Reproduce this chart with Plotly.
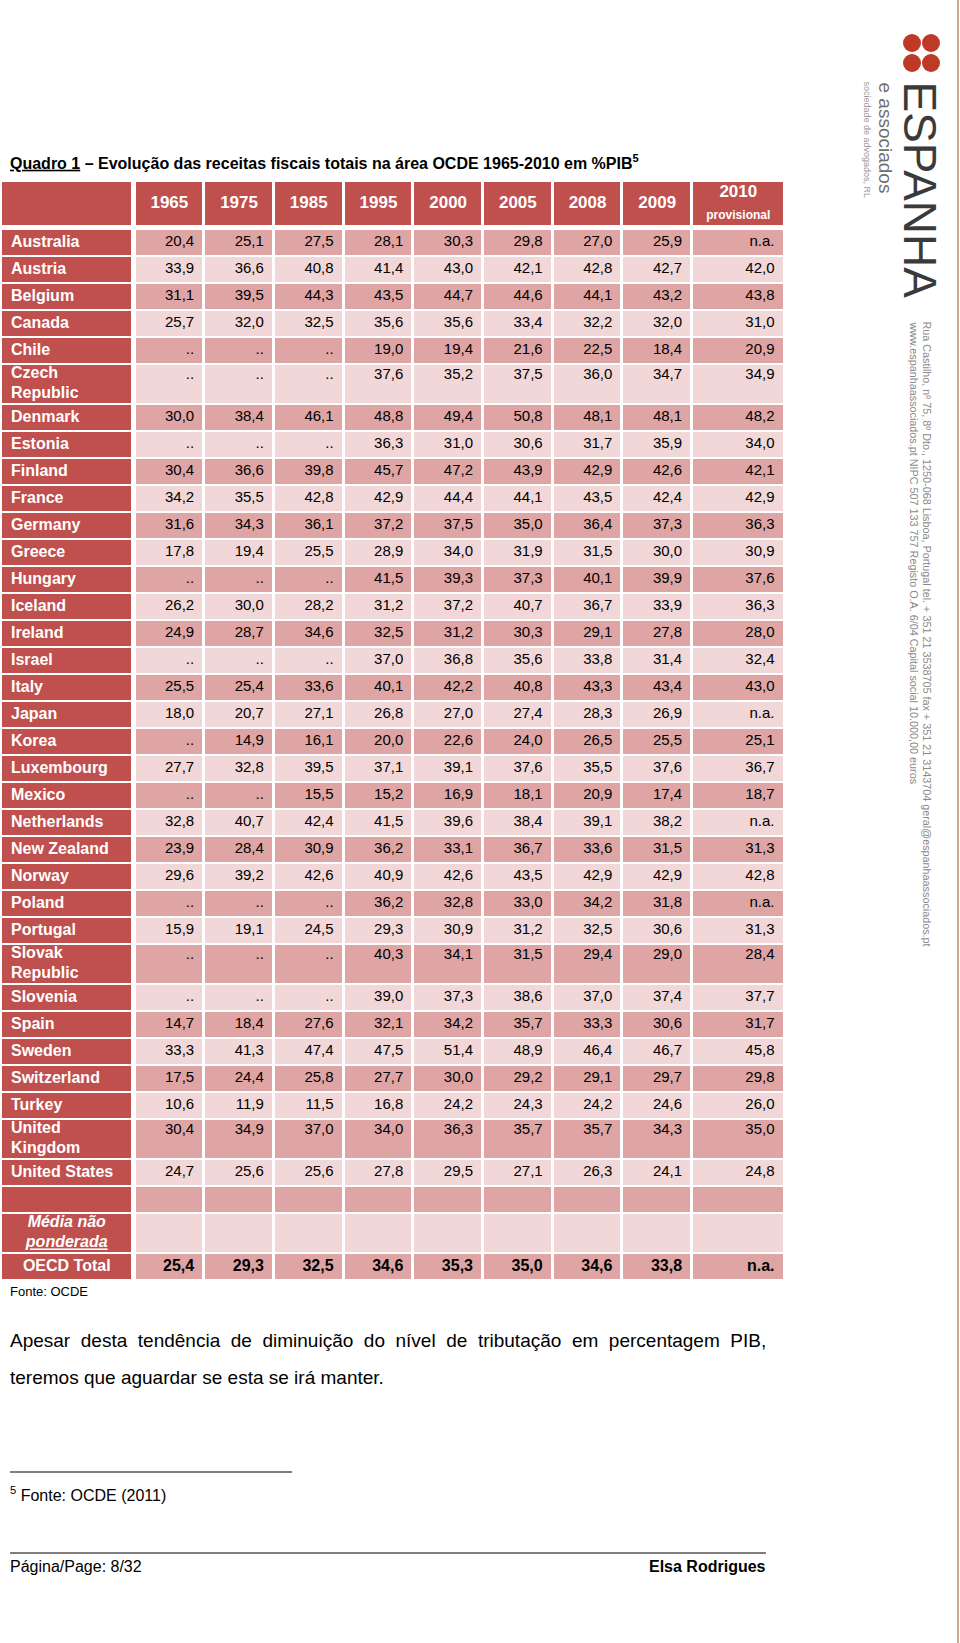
import plotly.graph_objects as go

W, H = 960, 1643

# ---------------- data ----------------
countries = ["Australia", "Austria", "Belgium", "Canada", "Chile", "Czech Republic", "Denmark",
             "Estonia", "Finland", "France", "Germany", "Greece", "Hungary", "Iceland", "Ireland",
             "Israel", "Italy", "Japan", "Korea", "Luxembourg", "Mexico", "Netherlands",
             "New Zealand", "Norway", "Poland", "Portugal", "Slovak Republic", "Slovenia", "Spain",
             "Sweden", "Switzerland", "Turkey", "United Kingdom", "United States"]
wrapped = {"Czech Republic": "Czech<br>Republic", "Slovak Republic": "Slovak<br>Republic",
           "United Kingdom": "United<br>Kingdom"}

years = ["1965", "1975", "1985", "1995", "2000", "2005", "2008", "2009", "2010"]

y1965 = [20.4, 33.9, 31.1, 25.7, None, None, 30.0, None, 30.4, 34.2, 31.6, 17.8, None, 26.2, 24.9, None, 25.5, 18.0, None, 27.7, None, 32.8, 23.9, 29.6, None, 15.9, None, None, 14.7, 33.3, 17.5, 10.6, 30.4, 24.7]
y1975 = [25.1, 36.6, 39.5, 32.0, None, None, 38.4, None, 36.6, 35.5, 34.3, 19.4, None, 30.0, 28.7, None, 25.4, 20.7, 14.9, 32.8, None, 40.7, 28.4, 39.2, None, 19.1, None, None, 18.4, 41.3, 24.4, 11.9, 34.9, 25.6]
y1985 = [27.5, 40.8, 44.3, 32.5, None, None, 46.1, None, 39.8, 42.8, 36.1, 25.5, None, 28.2, 34.6, None, 33.6, 27.1, 16.1, 39.5, 15.5, 42.4, 30.9, 42.6, None, 24.5, None, None, 27.6, 47.4, 25.8, 11.5, 37.0, 25.6]
y1995 = [28.1, 41.4, 43.5, 35.6, 19.0, 37.6, 48.8, 36.3, 45.7, 42.9, 37.2, 28.9, 41.5, 31.2, 32.5, 37.0, 40.1, 26.8, 20.0, 37.1, 15.2, 41.5, 36.2, 40.9, 36.2, 29.3, 40.3, 39.0, 32.1, 47.5, 27.7, 16.8, 34.0, 27.8]
y2000 = [30.3, 43.0, 44.7, 35.6, 19.4, 35.2, 49.4, 31.0, 47.2, 44.4, 37.5, 34.0, 39.3, 37.2, 31.2, 36.8, 42.2, 27.0, 22.6, 39.1, 16.9, 39.6, 33.1, 42.6, 32.8, 30.9, 34.1, 37.3, 34.2, 51.4, 30.0, 24.2, 36.3, 29.5]
y2005 = [29.8, 42.1, 44.6, 33.4, 21.6, 37.5, 50.8, 30.6, 43.9, 44.1, 35.0, 31.9, 37.3, 40.7, 30.3, 35.6, 40.8, 27.4, 24.0, 37.6, 18.1, 38.4, 36.7, 43.5, 33.0, 31.2, 31.5, 38.6, 35.7, 48.9, 29.2, 24.3, 35.7, 27.1]
y2008 = [27.0, 42.8, 44.1, 32.2, 22.5, 36.0, 48.1, 31.7, 42.9, 43.5, 36.4, 31.5, 40.1, 36.7, 29.1, 33.8, 43.3, 28.3, 26.5, 35.5, 20.9, 39.1, 33.6, 42.9, 34.2, 32.5, 29.4, 37.0, 33.3, 46.4, 29.1, 24.2, 35.7, 26.3]
y2009 = [25.9, 42.7, 43.2, 32.0, 18.4, 34.7, 48.1, 35.9, 42.6, 42.4, 37.3, 30.0, 39.9, 33.9, 27.8, 31.4, 43.4, 26.9, 25.5, 37.6, 17.4, 38.2, 31.5, 42.9, 31.8, 30.6, 29.0, 37.4, 30.6, 46.7, 29.7, 24.6, 34.3, 24.1]
y2010 = [None, 42.0, 43.8, 31.0, 20.9, 34.9, 48.2, 34.0, 42.1, 42.9, 36.3, 30.9, 37.6, 36.3, 28.0, 32.4, 43.0, None, 25.1, 36.7, 18.7, None, 31.3, 42.8, None, 31.3, 28.4, 37.7, 31.7, 45.8, 29.8, 26.0, 35.0, 24.8]
oecd_total = [25.4, 29.3, 32.5, 34.6, 35.3, 35.0, 34.6, 33.8, None]
missing_marks = ["..", "..", "..", "..", "..", "..", "..", "..", "n.a."]

series = [y1965, y1975, y1985, y1995, y2000, y2005, y2008, y2009, y2010]

# ---------------- styles / geometry ----------------
RED = "#C0504D"
DARK = "#DEA5A4"
LIGHT = "#F1D7D7"
FONT = "Liberation Sans"

TABLE_LEFT, LABEL_W, COL_GAP, DATA_W, LAST_W = 1.0, 131.5, 2.0, 69.7, 92.4
HEAD_TOP, HEAD_H, HEAD_GAP = 181.0, 45.0, 3.0
ROW_H, ROW_H2 = 27.0, 40.0


def fmt(v, mark):
    return mark if v is None else f"{v:.1f}".replace(".", ",")


# body rows: countries, blank row, "Média não ponderada", "OECD Total"
body_labels = [wrapped.get(c, c) for c in countries] + ["", "Média não<br><u>ponderada</u>", "OECD Total"]
body_heights = [ROW_H2 if c in wrapped else ROW_H for c in countries] + [ROW_H, ROW_H2, ROW_H]
n_body = len(body_labels)

# column edges: label, spacer, 9 data columns
x_edges = [TABLE_LEFT, TABLE_LEFT + LABEL_W, TABLE_LEFT + LABEL_W + COL_GAP]
for k in range(len(years)):
    x_edges.append(x_edges[-1] + (LAST_W if k == len(years) - 1 else DATA_W))

# row edges: header, spacer, body rows
y_edges = [HEAD_TOP, HEAD_TOP + HEAD_H, HEAD_TOP + HEAD_H + HEAD_GAP]
for h in body_heights:
    y_edges.append(y_edges[-1] + h)

n_data = len(years)
z = [[0, None] + [0] * n_data, [None] * (n_data + 2)]
for i in range(n_body):
    z.append([0, None] + [1 if i % 2 == 0 else 2] * n_data)

cells = go.Heatmap(x=x_edges, y=y_edges, z=z, zmin=0, zmax=2,
                   colorscale=[[0, RED], [0.5, DARK], [1, LIGHT]],
                   xgap=3, ygap=2, showscale=False, hoverinfo="skip")

row_top = y_edges[2:-1]
row_mid = [(y_edges[i + 2] + y_edges[i + 3]) / 2 for i in range(n_body)]
data_right = x_edges[3:]
data_center = [(x_edges[k + 2] + x_edges[k + 3]) / 2 for k in range(n_data)]
label_left = x_edges[0] + 10
label_center = (x_edges[0] + x_edges[1]) / 2

# header texts
head_text = [f"<b>{y}</b>" for y in years[:-1]] + \
    [f"<b>{years[-1]}</b><br><span style='font-size:12px'><b>provisional</b></span>"]
head_y = (y_edges[0] + y_edges[1]) / 2
header = go.Scatter(x=data_center, y=[head_y] * n_data, text=head_text, mode="text",
                    textposition="middle center", marker=dict(size=1),
                    textfont=dict(family=FONT, size=17, color="white"), hoverinfo="skip")

# country labels (left aligned)
n_left = len(countries)
labels_left = go.Scatter(x=[label_left] * n_left, y=row_mid[:n_left],
                         text=[f"<b>{t}</b>" for t in body_labels[:n_left]], mode="text",
                         textposition="middle right", marker=dict(size=1),
                         textfont=dict(family=FONT, size=16, color="white"), hoverinfo="skip")
# Média / OECD labels (centered)
labels_center = go.Scatter(x=[label_center] * 2, y=row_mid[n_left + 1:],
                           text=[f"<b><i>{body_labels[n_left + 1]}</i></b>", f"<b>{body_labels[n_left + 2]}</b>"],
                           mode="text", textposition="middle center", marker=dict(size=1),
                           textfont=dict(family=FONT, size=16, color="white"), hoverinfo="skip")

# data values (right aligned, on the first text line of the row)
dx, dy, dt = [], [], []
for k, s in enumerate(series):
    for i, v in enumerate(s):
        dx.append(data_right[k] - 10)
        dy.append(row_mid[i] if body_heights[i] == ROW_H else row_top[i] + 11)
        dt.append(fmt(v, missing_marks[k]))
values = go.Scatter(x=dx, y=dy, text=dt, mode="text", textposition="middle left",
                    marker=dict(size=1), textfont=dict(family=FONT, size=15, color="black"),
                    hoverinfo="skip")
oecd_row = n_body - 1
totals = go.Scatter(x=[data_right[k] - 10 for k in range(n_data)], y=[row_mid[oecd_row]] * n_data,
                    text=[f"<b>{fmt(v, missing_marks[k])}</b>" for k, v in enumerate(oecd_total)],
                    mode="text", textposition="middle left", marker=dict(size=1),
                    textfont=dict(family=FONT, size=16, color="black"), hoverinfo="skip")

fig = go.Figure([cells, header, labels_left, labels_center, values, totals])

ann = []


def text(x, y, s, size, color="black", xanchor="left", yanchor="middle", angle=0, family=FONT):
    ann.append(dict(x=x, y=y, xref="x", yref="y", text=s, showarrow=False,
                    xanchor=xanchor, yanchor=yanchor, textangle=angle, borderpad=0,
                    font=dict(family=family, size=size, color=color)))


text(9, 162, "<b><u>Quadro 1</u> – Evolução das receitas fiscais totais na área OCDE 1965-2010 em %PIB<sup>5</sup></b>", 16)
text(9, 1291, "Fonte: OCDE", 13)
text(9, 1340, "Apesar  desta  tendência  de  diminuição  do  nível  de  tributação  em  percentagem  PIB,", 19)
text(9, 1377, "teremos que aguardar se esta se irá manter.", 19)
text(9, 1494, "<sup>5</sup> Fonte: OCDE (2011)", 16)
text(9, 1566, "Página/Page: 8/32", 16)
text(767, 1566, "<b>Elsa Rodrigues</b>", 16, xanchor="right")

# logo (rotated, right margin)
text(920, 80, "ESPANHA", 46, color="#3a3a3a", xanchor="center", yanchor="top", angle=90)
text(885, 81, "e associados", 19, color="#6f6f6f", xanchor="center", yanchor="top", angle=90)
text(867, 80, "sociedade de advogados, RL", 9, color="#9a9a9a", xanchor="center", yanchor="top", angle=90)
text(927, 320, "Rua Castilho, nº 75, 8º Dto., 1250-068 Lisboa, Portugal tel. + 351 21 3538705 fax + 351 21 3143704 geral@espanhaassociados.pt",
     10.8, color="#8a8a8a", xanchor="center", yanchor="top", angle=90)
text(914, 320, "www.espanhaassociados.pt NIPC 507 133 757 Registo O.A. 6/04 Capital social 10.000,00 euros",
     10.8, color="#8a8a8a", xanchor="center", yanchor="top", angle=90)

shapes = []
for cx in (912, 931):
    for cy in (43, 63):
        shapes.append(dict(type="circle", xref="x", yref="y",
                           x0=cx - 9, x1=cx + 9, y0=cy - 9, y1=cy + 9,
                           fillcolor="#BE3A26", line=dict(width=0)))
shapes.append(dict(type="line", xref="x", yref="y", x0=958, x1=958, y0=0, y1=H,
                   line=dict(color="#C9AC8E", width=2)))
shapes.append(dict(type="line", xref="x", yref="y", x0=10, x1=292, y0=1472, y1=1472,
                   line=dict(color="black", width=1)))
shapes.append(dict(type="line", xref="x", yref="y", x0=10, x1=766, y0=1553, y1=1553,
                   line=dict(color="#555555", width=1.5)))

fig.update_layout(width=W, height=H, margin=dict(l=0, r=0, t=0, b=0, pad=0),
                  paper_bgcolor="white", plot_bgcolor="white",
                  xaxis=dict(range=[0, W], visible=False, fixedrange=True),
                  yaxis=dict(range=[H, 0], visible=False, fixedrange=True),
                  annotations=ann, shapes=shapes, showlegend=False)

fig.write_html("out.html", config={"displayModeBar": False},
               post_script="document.body.style.margin='0px';")
